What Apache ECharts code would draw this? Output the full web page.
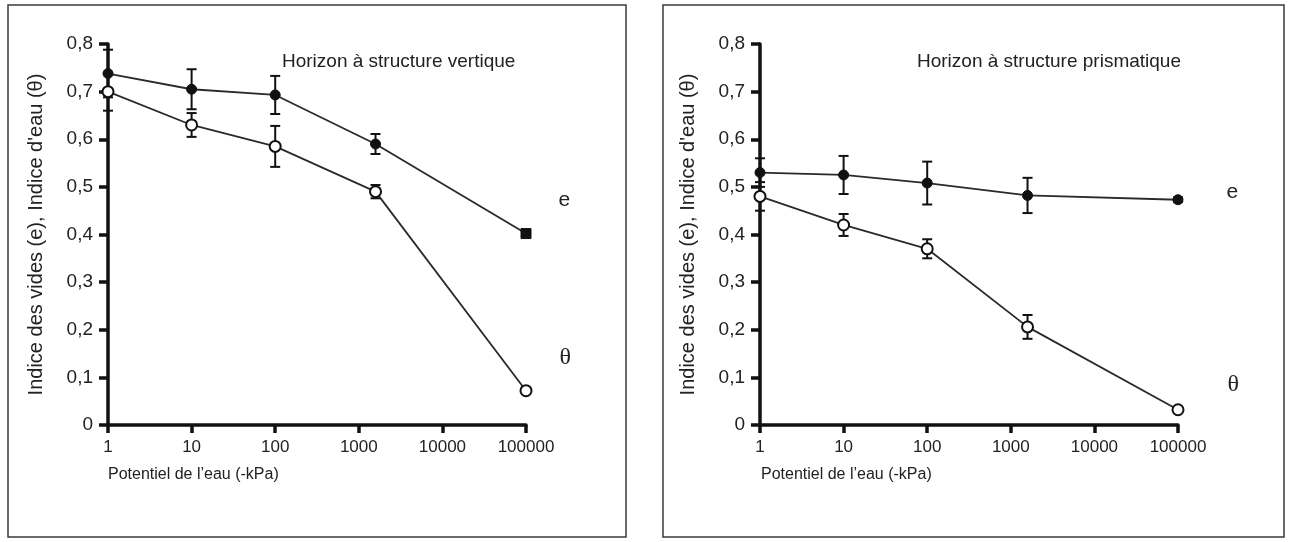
<!DOCTYPE html>
<html lang="fr">
<head>
    <meta charset="UTF-8">
    <title>Indice des vides et indice d'eau</title>
    <script src="https://cdn.jsdelivr.net/npm/echarts@6/dist/echarts.min.js"></script>
    <style>
        html, body { margin: 0; padding: 0; background: #fff; }
        #main { width: 1289px; height: 542px; }
    </style>
</head>
<body>
<div id="main"></div>
<script>
    // potentiel de l'eau (-kPa), abscisse log
    var potentiel = [1, 10, 100, 1585, 100000];

    // horizon à structure vertique
    var vertE = [0.738, 0.705, 0.693, 0.590, 0.402];
    var vertEErr = [0.05, 0.042, 0.04, 0.021, 0.005];
    var vertTheta = [0.700, 0.630, 0.585, 0.490, 0.072];
    var vertThetaErr = [0.04, 0.025, 0.043, 0.014, 0.005];

    // horizon à structure prismatique
    var prisE = [0.530, 0.525, 0.508, 0.482, 0.473];
    var prisEErr = [0.03, 0.04, 0.045, 0.037, 0.005];
    var prisTheta = [0.480, 0.420, 0.370, 0.206, 0.032];
    var prisThetaErr = [0.03, 0.023, 0.02, 0.025, 0.005];

    var FONT = "'Liberation Sans', Arial, sans-serif";
    var SERIF = "'Liberation Serif', 'DejaVu Serif', serif";
    var INK = '#111';

    function pairs(ys) {
        return ys.map(function (y, i) { return [potentiel[i], y]; });
    }

    function errData(ys, errs) {
        return ys.map(function (y, i) { return [potentiel[i], y - errs[i], y + errs[i]]; });
    }

    function errRender(params, api) {
        var lo = api.coord([api.value(0), api.value(1)]);
        var hi = api.coord([api.value(0), api.value(2)]);
        var w = 5;
        var st = { stroke: INK, lineWidth: 2 };
        return {
            type: 'group',
            children: [
                { type: 'line', shape: { x1: lo[0], y1: lo[1], x2: hi[0], y2: hi[1] }, style: st },
                { type: 'line', shape: { x1: lo[0] - w, y1: lo[1], x2: lo[0] + w, y2: lo[1] }, style: st },
                { type: 'line', shape: { x1: hi[0] - w, y1: hi[1], x2: hi[0] + w, y2: hi[1] }, style: st }
            ]
        };
    }

    function lineSeries(idx, ys, filled, lastSquare, name, labelOffset) {
        var data = pairs(ys).map(function (p, i) {
            var item = { value: p };
            if (i === ys.length - 1) {
                if (lastSquare) { item.symbol = 'rect'; item.symbolSize = 10; }
                item.label = {
                    show: true,
                    position: 'right',
                    offset: labelOffset,
                    formatter: name,
                    fontFamily: name === 'θ' ? SERIF : FONT,
                    fontSize: name === 'θ' ? 24 : 21,
                    color: '#222'
                };
            }
            return item;
        });
        return {
            type: 'line',
            xAxisIndex: idx,
            yAxisIndex: idx,
            data: data,
            symbol: 'circle',
            symbolSize: filled ? 10 : 11,
            lineStyle: { color: '#2a2a2a', width: 1.8 },
            itemStyle: filled
                ? { color: INK, borderColor: INK, borderWidth: 1 }
                : { color: '#fff', borderColor: INK, borderWidth: 2 },
            z: 3,
            silent: true,
            animation: false
        };
    }

    function errSeries(idx, ys, errs) {
        return {
            type: 'custom',
            xAxisIndex: idx,
            yAxisIndex: idx,
            data: errData(ys, errs),
            renderItem: errRender,
            encode: { x: 0, y: [1, 2] },
            z: 2,
            silent: true,
            animation: false
        };
    }

    function xAxisFor(idx) {
        return {
            type: 'log',
            logBase: 10,
            gridIndex: idx,
            min: 1,
            max: 100000,
            axisLine: { lineStyle: { color: INK, width: 3.5 } },
            axisTick: { length: 8, lineStyle: { color: INK, width: 3.5 } },
            splitLine: { show: false },
            axisLabel: {
                margin: 14,
                fontFamily: FONT,
                fontSize: 17,
                color: '#222',
                formatter: function (v) { return String(Math.round(v)); }
            }
        };
    }

    function yAxisFor(idx) {
        return {
            type: 'value',
            gridIndex: idx,
            min: 0,
            max: 0.8,
            interval: 0.1,
            name: "Indice des vides (e), Indice d'eau (θ)",
            nameLocation: 'middle',
            nameGap: 62,
            nameTextStyle: { fontFamily: FONT, fontSize: 20, color: '#222' },
            axisLine: { show: true, lineStyle: { color: INK, width: 3.5 } },
            axisTick: { show: true, length: 9, lineStyle: { color: INK, width: 3.5 } },
            splitLine: { show: false },
            axisLabel: {
                margin: 15,
                fontFamily: FONT,
                fontSize: 19,
                color: '#222',
                formatter: function (v) {
                    return v === 0 ? '0' : v.toFixed(1).replace('.', ',');
                }
            }
        };
    }

    var myChart = echarts.init(document.getElementById('main'));

    var titleStyle = { fontFamily: FONT, fontSize: 19, fontWeight: 'normal', color: '#222' };
    var xNameStyle = { fontFamily: FONT, fontSize: 16, fontWeight: 'normal', color: '#222' };

    var option = {
        backgroundColor: '#fff',
        animation: false,
        title: [
            { text: 'Horizon à structure vertique', left: 277, top: 47, textStyle: titleStyle },
            { text: 'Horizon à structure prismatique', left: 912, top: 47, textStyle: titleStyle },
            { text: 'Potentiel de l’eau (-kPa)', left: 103, top: 462, textStyle: xNameStyle },
            { text: 'Potentiel de l’eau (-kPa)', left: 756, top: 462, textStyle: xNameStyle }
        ],
        graphic: [
            { type: 'rect', shape: { x: 8, y: 5, width: 618, height: 532 },
              style: { fill: 'none', stroke: '#3a3a3a', lineWidth: 1.5 }, silent: true },
            { type: 'rect', shape: { x: 663, y: 5, width: 621, height: 532 },
              style: { fill: 'none', stroke: '#3a3a3a', lineWidth: 1.5 }, silent: true }
        ],
        grid: [
            { left: 108, width: 418, top: 44, height: 381 },
            { left: 760, width: 418, top: 44, height: 381 }
        ],
        xAxis: [xAxisFor(0), xAxisFor(1)],
        yAxis: [yAxisFor(0), yAxisFor(1)],
        series: [
            errSeries(0, vertE, vertEErr),
            errSeries(0, vertTheta, vertThetaErr),
            lineSeries(0, vertE, true, true, 'e', [22, -33]),
            lineSeries(0, vertTheta, false, false, 'θ', [22, -33]),
            errSeries(1, prisE, prisEErr),
            errSeries(1, prisTheta, prisThetaErr),
            lineSeries(1, prisE, true, false, 'e', [38, -8]),
            lineSeries(1, prisTheta, false, false, 'θ', [38, -25])
        ]
    };

    myChart.setOption(option);
</script>
</body>
</html>
